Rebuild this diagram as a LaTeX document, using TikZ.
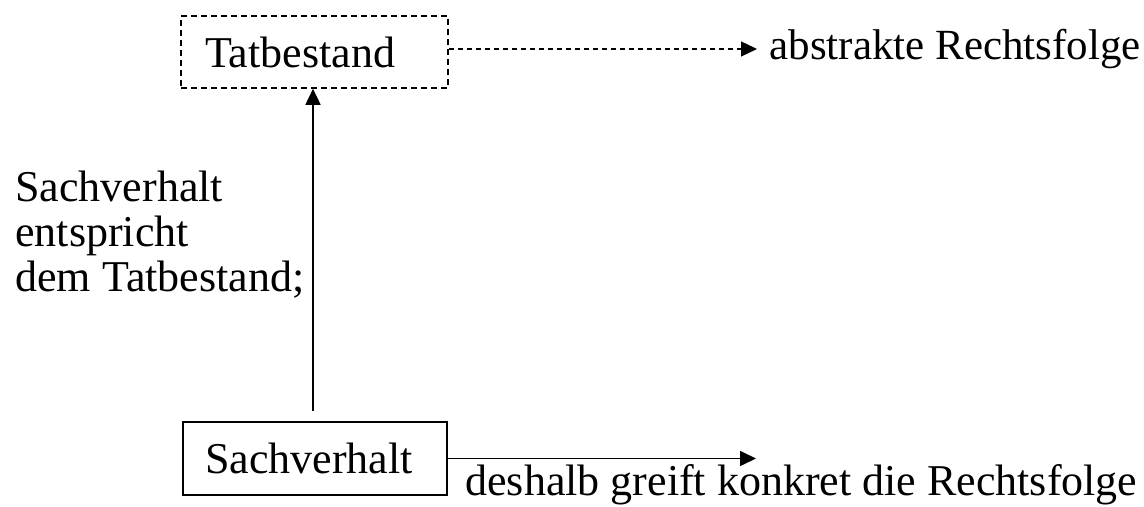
\documentclass[tikz,border=0pt]{standalone}
\usepackage{fontspec}
\setmainfont{Liberation Serif}
\usetikzlibrary{arrows.meta}
\begin{document}
\begin{tikzpicture}[x=0.5pt, y=-0.5pt, font=\fontsize{22}{22.5}\selectfont, >={Triangle[length=8pt,width=7.5pt]}]
        \tikzstyle{box}=[draw, line width=0.8pt, align=left]
        \tikzstyle{arr}=[line width=0.8pt, ->]
        \useasboundingbox (0,0) rectangle (1144,507);

        \node (t)[box, dash pattern=on 3pt off 2pt, minimum height=36pt, inner xsep=12pt, text width=109.5pt] at (314.5,52) {Tatbestand};
        \node (s)[box, minimum height=36.5pt, inner xsep=11pt, text width=110pt] at (315,458.5) {Sachverhalt};

        \node (abs)[anchor=base west, inner xsep=6pt, font=\fontsize{21.5}{22.5}\selectfont] at (757,60) {abstrakte Rechtsfolge};
        \node (kon)[anchor=base west, inner sep=0pt] at (465,495) {deshalb greift konkret die Rechtsfolge};
        \node (ents)[anchor=base west, inner sep=0pt, align=left] at (15,292) {Sachverhalt\\entspricht\\dem Tatbestand;};

        \coordinate (fuss) at (313,411);
        \coordinate (rf) at (756,459);

        \draw[arr] (fuss) -- (fuss |- t.south);
        \draw[arr, line width=0.6pt, dash pattern=on 2.5pt off 2pt] ([yshift=1.5pt]t.east) -- ([yshift=1.5pt]t.east -| abs.west);
        \draw[arr] (s.east) -- (s.east -| rf);
    \end{tikzpicture}
\end{document}
